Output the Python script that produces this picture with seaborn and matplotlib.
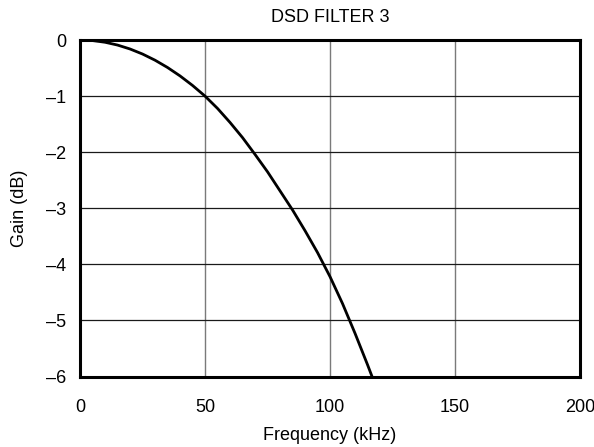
import matplotlib
matplotlib.use("Agg")
import matplotlib.pyplot as plt
import pandas as pd
import seaborn as sns

# Magnitude response of DSD filter 3
freq_khz = [0, 5, 10, 15, 20, 25, 30, 35, 40, 45, 50, 55, 60, 65, 70, 75, 80,
            85, 90, 95, 100, 105, 110, 115, 116.8]
gain_db = [0.0, -0.01, -0.04, -0.09, -0.16, -0.25, -0.36, -0.49, -0.64, -0.81,
           -1.00, -1.22, -1.47, -1.74, -2.04, -2.35, -2.69, -3.03, -3.40, -3.79,
           -4.22, -4.70, -5.23, -5.79, -6.0]

x_ticks = [0, 50, 100, 150, 200]
y_ticks = [0, -1, -2, -3, -4, -5, -6]
y_tick_labels = ["0", "–1", "–2", "–3", "–4", "–5", "–6"]

sns.set_theme(style="white")
plt.rcParams["font.family"] = ["Liberation Sans", "DejaVu Sans"]

df = pd.DataFrame({"freq": freq_khz, "gain": gain_db})

fig = plt.figure(figsize=(5.94, 4.47), dpi=100)
ax = fig.add_axes([0.1347, 0.1577, 0.8418, 0.7528])

sns.lineplot(data=df, x="freq", y="gain", ax=ax, color="black", linewidth=2.0,
             estimator=None, sort=True, zorder=3)

ax.set_xlim(0, 200)
ax.set_ylim(-6, 0)
ax.set_xticks(x_ticks)
ax.set_xticklabels([str(t) for t in x_ticks])
ax.set_yticks(y_ticks)
ax.set_yticklabels(y_tick_labels)

for xv in x_ticks[1:-1]:
    ax.axvline(xv, color="#7a7a7a", linewidth=1.0, zorder=1)
for yv in y_ticks[1:-1]:
    ax.axhline(yv, color="#1a1a1a", linewidth=0.9, zorder=1)

for s in ax.spines.values():
    s.set_color("black")
    s.set_linewidth(2.2)
    s.set_visible(True)

fs = 13
ax.tick_params(axis="both", length=0, labelsize=fs, colors="black")
ax.tick_params(axis="x", pad=16)
ax.tick_params(axis="y", pad=10)
ax.set_xlabel("Frequency (kHz)", fontsize=fs, color="black", labelpad=8)
ax.set_ylabel("Gain (dB)", fontsize=fs, color="black", labelpad=13)
ax.set_title("DSD FILTER 3", fontsize=fs, color="black", pad=13)

fig.savefig("out.png", dpi=100)
